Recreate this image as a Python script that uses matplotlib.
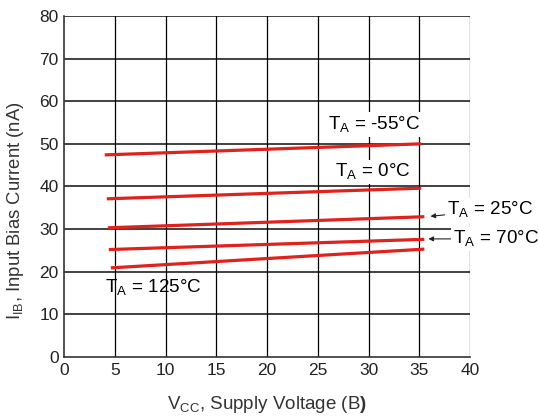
import matplotlib
matplotlib.use("Agg")
import matplotlib.pyplot as plt

plt.rcParams["font.family"] = ["Liberation Sans", "DejaVu Sans"]
plt.rcParams["mathtext.fontset"] = "custom"
plt.rcParams["mathtext.rm"] = "Liberation Sans"
plt.rcParams["mathtext.bf"] = "Liberation Sans:bold"

# supply voltage end points (V) and bias current (nA) for each temperature
vcc_start = [4.0, 4.2, 4.3, 4.4, 4.6]
vcc_end = [35.2, 35.2, 35.5, 35.5, 35.5]
ib_start = [47.4, 37.1, 30.3, 25.2, 20.9]
ib_end = [50.0, 39.6, 32.9, 27.6, 25.3]
temps = ["-55", "0", "25", "70", "125"]

xticks = [0, 5, 10, 15, 20, 25, 30, 35, 40]
yticks = [0, 10, 20, 30, 40, 50, 60, 70, 80]

red = "#e0211c"

fig = plt.figure(figsize=(5.39, 4.19), dpi=100)
ax = fig.add_axes([0.119, 0.148, 0.753, 0.814])

for x0, x1, y0, y1 in zip(vcc_start, vcc_end, ib_start, ib_end):
    ax.plot([x0, x1], [y0, y1], color=red, lw=2.3, solid_capstyle="butt", zorder=3)

ax.set_xlim(0, 40)
ax.set_ylim(0, 80)
ax.set_xticks(xticks)
ax.set_yticks(yticks)
ax.tick_params(length=0, labelsize=12.5, pad=4, colors="#222222")
for y in yticks[1:]:
    ax.axhline(y, color="#333333", lw=1.3, zorder=1)
for x in xticks[1:]:
    ax.axvline(x, color="black", lw=0.9, zorder=1)
for side in ["top", "right"]:
    ax.spines[side].set_visible(False)
for side in ["left", "bottom"]:
    ax.spines[side].set_color("#333333")
    ax.spines[side].set_linewidth(1.2)

box = dict(facecolor="white", edgecolor="none", pad=1.5)
lab = lambda t: "T$_\\mathrm{A}$ = " + t + "°C"
fs = 13.6

ax.text(30.6, 54.5, lab(temps[0]), ha="center", va="center", fontsize=fs, bbox=box, zorder=4)
ax.text(30.4, 43.4, lab(temps[1]), ha="center", va="center", fontsize=fs, bbox=box, zorder=4)
ax.text(8.8, 16.2, lab(temps[4]), ha="center", va="center", fontsize=fs, zorder=4)
ax.annotate(lab(temps[2]), xy=(36.1, 33.0), xytext=(37.7, 34.4), ha="left", va="center",
            fontsize=fs, bbox=box, zorder=4, annotation_clip=False,
            arrowprops=dict(arrowstyle="-|>", color="#222222", lw=0.8, mutation_scale=7,
                            shrinkA=0, shrinkB=0))
ax.annotate(lab(temps[3]), xy=(35.9, 27.7), xytext=(38.3, 27.7), ha="left", va="center",
            fontsize=fs, bbox=box, zorder=4, annotation_clip=False,
            arrowprops=dict(arrowstyle="-|>", color="#222222", lw=0.8, mutation_scale=7,
                            shrinkA=0, shrinkB=0))

ax.set_ylabel("I$_\\mathrm{IB}$, Input Bias Current (nA)", fontsize=13.3, color="#333333")
ax.yaxis.set_label_coords(-0.094, 0.43)
ax.set_xlabel("V$_\\mathrm{CC}$, Supply Voltage (B$\\mathbf{)}$", fontsize=13.5, color="#333333", labelpad=12)

fig.savefig("out.png", dpi=100)
